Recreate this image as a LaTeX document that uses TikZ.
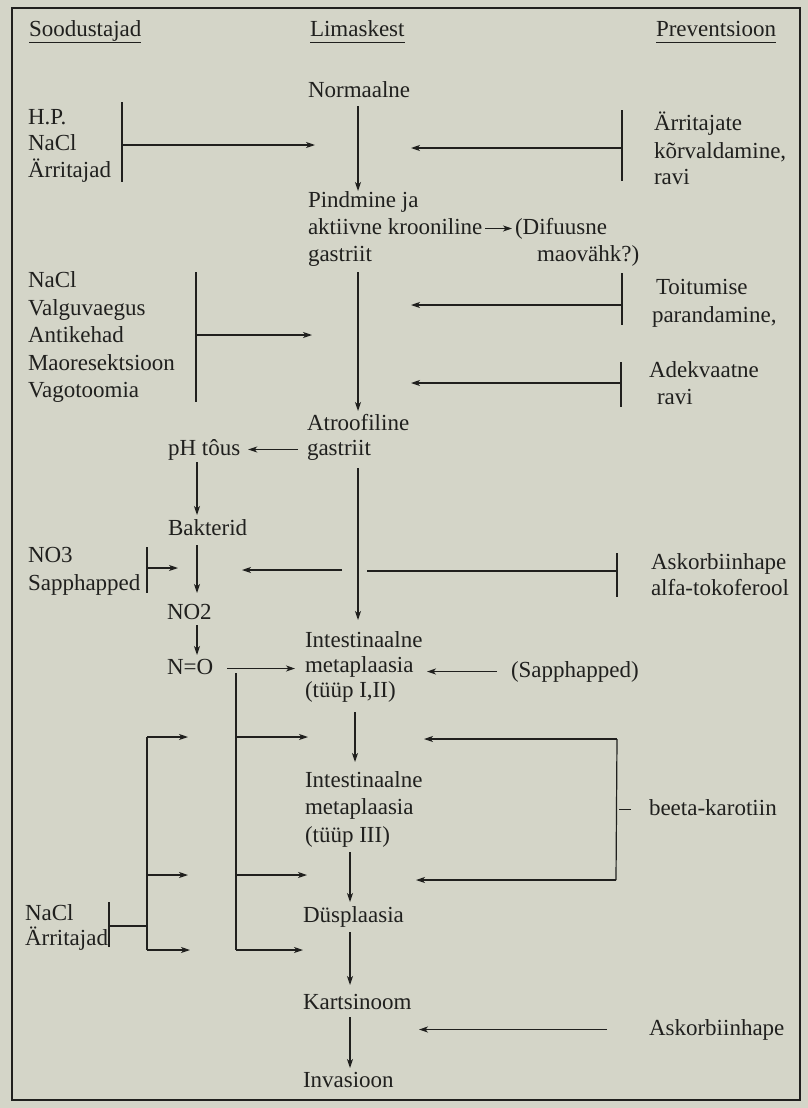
\documentclass[tikz,border=0pt]{standalone}
\usepackage{fontspec}
\setmainfont{Liberation Serif}
\usetikzlibrary{arrows.meta}
\definecolor{paper}{RGB}{212,213,200}
\definecolor{ink}{RGB}{32,32,30}
\begin{document}
\begin{tikzpicture}[x=1pt,y=-1pt,
  t/.style={anchor=base west, inner sep=0pt, outer sep=0pt, text height=16pt, text depth=5pt,
            font=\fontsize{23}{26}\selectfont, text=ink},
  ln/.style={draw=ink, line width=1.2pt},
  arr/.style={ln, -{Stealth[length=9pt,width=6pt,inset=2.5pt]}},
  frame/.style={draw=ink, line width=2.4pt}]
\fill[paper] (0,0) rectangle (808,1108);
\useasboundingbox (0,0) rectangle (808,1108);
\draw[frame] (12,8) rectangle (800,1100);

% headers
\node[t] (sood) at (29,37) {Soodustajad};
\node[t] (lima) at (310,37) {Limaskest};
\node[t] (prev) at (656,37) {Preventsioon};
\foreach \n in {sood,lima,prev}
  \draw[ln, line width=1pt] ([yshift=-6pt]\n.base west) -- ([yshift=-6pt]\n.base east);

% main column
\node[t] (norm) at (308,97) {Normaalne};
\node[t] (pind) at (308,207) {Pindmine ja};
\node[t] (akt)  at (308,234) {aktiivne krooniline};
\node[t] (gas1) at (308,261) {gastriit};
\node[t] (dif)  at (515,234) {(Difuusne};
\node[t] (mao)  at (537,261) {maovähk?)};
\node[t] (atro) at (307,430) {Atroofiline};
\node[t] (gas2) at (307,455) {gastriit};
\node[t] (int1) at (305,647) {Intestinaalne};
\node[t] (meta1) at (305,672) {metaplaasia};
\node[t] (typ1) at (305,697) {(tüüp I,II)};
\node[t] (int2) at (305,787) {Intestinaalne};
\node[t] (meta2) at (305,814) {metaplaasia};
\node[t] (typ2) at (305,842) {(tüüp III)};
\node[t] (dysp) at (303,922) {Düsplaasia};
\node[t] (kart) at (303,1009) {Kartsinoom};
\node[t] (inv)  at (303,1087) {Invasioon};

% left column
\node[t] (hp)    at (28,124) {H.P.};
\node[t] (nacla) at (28,150) {NaCl};
\node[t] (arra)  at (28,177) {Ärritajad};
\node[t] (naclb) at (28,287) {NaCl};
\node[t] (valg)  at (28,315) {Valguvaegus};
\node[t] (anti)  at (28,342) {Antikehad};
\node[t] (maor)  at (28,370) {Maoresektsioon};
\node[t] (vago)  at (28,397) {Vagotoomia};
\node[t] (ph)    at (168,455) {pH tôus};
\node[t] (bakt)  at (168,535) {Bakterid};
\node[t] (no3)   at (28,562) {NO3};
\node[t] (sap1)  at (28,590) {Sapphapped};
\node[t] (no2)   at (167,619) {NO2};
\node[t] (nO)    at (167,674) {N=O};
\node[t] (naclc) at (25,920) {NaCl};
\node[t] (arrc)  at (25,945) {Ärritajad};

% right column
\node[t] (arrit) at (654,130) {Ärritajate};
\node[t] (korv)  at (654,158) {kõrvaldamine,};
\node[t] (ravia) at (654,184) {ravi};
\node[t] (toit)  at (656,294) {Toitumise};
\node[t] (parand) at (652,322) {parandamine,};
\node[t] (adek)  at (649,377) {Adekvaatne};
\node[t] (ravib) at (657,404) {ravi};
\node[t] (aska)  at (651,569) {Askorbiinhape};
\node[t] (alfa)  at (651,595) {alfa-tokoferool};
\node[t] (sap2)  at (511,677) {(Sapphapped)};
\node[t] (beeta) at (649,815) {beeta-karotiin};
\node[t] (askb)  at (649,1035) {Askorbiinhape};

% column x positions
\coordinate (c1) at (358,0);
\coordinate (c2) at (355,0);
\coordinate (c3) at (350,0);

% main vertical arrows
\draw[arr, shorten <=4pt] (c1 |- norm.south) -- (c1 |- pind.north);
\draw[arr, shorten <=6pt, shorten >=3pt] (c1 |- gas1.south) -- (c1 |- atro.north);
\draw[arr, shorten <=8pt, shorten >=11pt] (c1 |- gas2.south) -- (c1 |- int1.north);
\draw[arr, shorten <=10pt, shorten >=9pt] (c2 |- typ1.south) -- (c2 |- int2.north);
\draw[arr, shorten <=5pt, shorten >=4pt] (c3 |- typ2.south) -- (c3 |- dysp.north);
\draw[arr, shorten <=5pt, shorten >=8pt] (c3 |- dysp.south) -- (c3 |- kart.north);
\draw[arr, shorten <=3pt, shorten >=3pt] (c3 |- kart.south) -- (c3 |- inv.north);

% difuusne
\draw[arr, shorten <=3pt, shorten >=3pt] (akt.east) -- (dif.west |- akt.east);

% left bar 1
\coordinate (b1t) at (122,102); \coordinate (b1b) at (122,182);
\coordinate (b1m) at (122,145); \coordinate (b1e) at (315,145);
\draw[ln] (b1t) -- (b1b);
\draw[arr] (b1m) -- (b1e);

% right bar 1
\coordinate (r1t) at (622,110); \coordinate (r1b) at (622,181);
\coordinate (r1m) at (622,148); \coordinate (r1e) at (411,148);
\draw[ln] (r1t) -- (r1b);
\draw[arr] (r1m) -- (r1e);

% left bar 2
\coordinate (b2t) at (196,272); \coordinate (b2b) at (196,402);
\coordinate (b2m) at (196,335); \coordinate (b2e) at (312,335);
\draw[ln] (b2t) -- (b2b);
\draw[arr] (b2m) -- (b2e);

% right bars 2,3
\coordinate (r2t) at (622,273); \coordinate (r2b) at (622,325);
\coordinate (r2m) at (622,305); \coordinate (r2e) at (411,305);
\draw[ln] (r2t) -- (r2b);
\draw[arr] (r2m) -- (r2e);
\coordinate (r3t) at (621,362); \coordinate (r3b) at (621,407);
\coordinate (r3m) at (621,383); \coordinate (r3e) at (411,383);
\draw[ln] (r3t) -- (r3b);
\draw[arr] (r3m) -- (r3e);

% pH branch
\draw[arr, shorten <=9pt, shorten >=8pt] (gas2.west) -- (ph.east |- gas2.west);
\coordinate (c4) at (197,0);
\draw[arr, shorten <=2pt, shorten >=4pt] (c4 |- ph.south) -- (c4 |- bakt.north);
\draw[arr, shorten <=5pt, shorten >=10pt] (c4 |- bakt.south) -- (c4 |- no2.north);
\draw[arr, shorten <=1pt, shorten >=3pt] (c4 |- no2.south) -- (c4 |- nO.north);

% NO3 bar
\coordinate (b3t) at (147,547); \coordinate (b3b) at (147,593);
\coordinate (b3m) at (147,568); \coordinate (b3e) at (178,568);
\draw[ln] (b3t) -- (b3b);
\draw[arr] (b3m) -- (b3e);

% Askorbiinhape / alfa-tokoferool
\coordinate (r4t) at (617,553); \coordinate (r4b) at (617,597);
\coordinate (r4m) at (617,571); \coordinate (r4g) at (367,571);
\coordinate (r4h) at (342,570); \coordinate (r4e) at (242,570);
\draw[ln] (r4t) -- (r4b);
\draw[ln] (r4m) -- (r4g);
\draw[arr] (r4h) -- (r4e);

% N=O arrow
\draw[arr, shorten <=14pt, shorten >=10pt] (nO.east) -- (meta1.west |- nO.east);

% N=O distribution
\coordinate (d1t) at (236,673); \coordinate (d1b) at (236,950);
\draw[ln] (d1t) -- (d1b);
\coordinate (d1a) at (236,737); \coordinate (d1ae) at (308,737);
\coordinate (d1c) at (236,875); \coordinate (d1ce) at (307,875);
\coordinate (d1de) at (303,950);
\draw[arr] (d1a) -- (d1ae);
\draw[arr] (d1c) -- (d1ce);
\draw[arr] (d1b) -- (d1de);

% NaCl / Arritajad distribution
\coordinate (d2t) at (147,737); \coordinate (d2b) at (147,950);
\draw[ln] (d2t) -- (d2b);
\coordinate (d2c) at (147,875);
\coordinate (d2ae) at (188,737); \coordinate (d2ce) at (188,875); \coordinate (d2de) at (190,950);
\draw[arr] (d2t) -- (d2ae);
\draw[arr] (d2c) -- (d2ce);
\draw[arr] (d2b) -- (d2de);
\coordinate (b4t) at (109,902); \coordinate (b4b) at (109,947);
\coordinate (b4m) at (109,926); \coordinate (b4e) at (147,926);
\draw[ln] (b4t) -- (b4b);
\draw[ln] (b4m) -- (b4e);

% Sapphapped arrow
\draw[arr, shorten <=14pt] (sap2.west) -- (427,0 |- sap2.west);

% beeta-karotiin bracket
\coordinate (k1) at (617,739); \coordinate (k1e) at (424,739);
\coordinate (k2) at (616,880); \coordinate (k2e) at (416,880);
\draw[arr] (k1) -- (k1e);
\draw[ln] (k1) -- (k2);
\draw[arr] (k2) -- (k2e);
\draw[ln] ([xshift=-30pt]beeta.west) -- ([xshift=-18pt]beeta.west);

% Askorbiinhape bottom
\draw[arr, shorten <=42pt] (askb.west) -- (419,0 |- askb.west);
\end{tikzpicture}
\end{document}
